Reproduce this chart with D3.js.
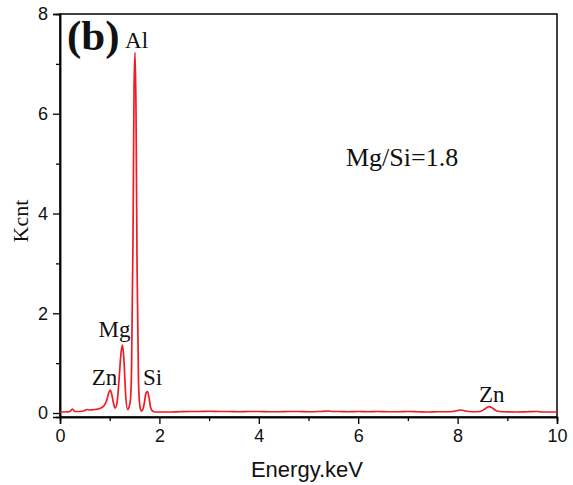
<!DOCTYPE html>
<html><head><meta charset="utf-8">
<script src="https://cdn.jsdelivr.net/npm/d3@7"></script>
<style>body{margin:0;background:#fff}svg{display:block}</style>
</head><body>
<script>
const energy = [0.00,0.10,0.20,0.25,0.30,0.40,0.50,0.55,0.60,0.70,0.80,0.88,0.94,0.98,1.01,1.04,1.08,1.11,1.15,1.19,1.23,1.26,1.29,1.32,1.36,1.39,1.42,1.44,1.47,1.49,1.51,1.53,1.55,1.58,1.61,1.64,1.67,1.70,1.73,1.76,1.79,1.82,1.86,1.92,2.0,2.2,2.4,2.6,2.8,3.0,3.2,3.4,3.6,3.8,4.0,4.2,4.4,4.6,4.8,5.0,5.2,5.4,5.5,5.6,5.8,6.0,6.2,6.4,6.6,6.8,7.0,7.2,7.4,7.6,7.8,7.9,8.0,8.07,8.15,8.3,8.45,8.55,8.63,8.70,8.78,8.9,9.2,9.4,9.6,9.7,10.0];
const kcnt   = [0.02,0.02,0.03,0.08,0.03,0.03,0.05,0.07,0.06,0.07,0.09,0.14,0.25,0.40,0.46,0.38,0.18,0.10,0.22,0.70,1.22,1.36,1.00,0.38,0.07,0.12,0.30,0.9,3.6,6.5,7.23,6.0,3.0,0.6,0.12,0.04,0.08,0.22,0.40,0.43,0.32,0.12,0.04,0.02,0.02,0.02,0.025,0.03,0.03,0.035,0.03,0.03,0.025,0.03,0.03,0.025,0.025,0.03,0.03,0.025,0.03,0.04,0.03,0.03,0.025,0.03,0.025,0.03,0.025,0.025,0.03,0.025,0.02,0.025,0.025,0.03,0.05,0.06,0.04,0.025,0.03,0.08,0.13,0.10,0.045,0.025,0.02,0.025,0.03,0.02,0.02];
const xTicks = [0,2,4,6,8,10];
const xMinor = [1,3,5,7,9];
const yTicks = [0,2,4,6,8];
const yMinor = [1,3,5,7];
const peakNames = ["Al","Mg","Zn","Si","Zn"];
const peakEnergy = [1.51,1.26,1.01,1.76,8.63];
const peakHeight = [7.23,1.36,0.46,0.43,0.13];
const annotation = "Mg/Si=1.8";
const panelLabel = "(b)";

const W=573,H=485;
const svg=d3.select("body").append("svg").attr("width",W).attr("height",H);
const L=60,R=557,T=14,B=417;
const x=d3.scaleLinear().domain([0,10]).range([L,R]);
const y=d3.scaleLinear().domain([-0.08,8]).range([B,T]);

svg.append("rect").attr("x",L).attr("y",T).attr("width",R-L).attr("height",B-T)
  .attr("fill","none").attr("stroke","#000").attr("stroke-width",1.5);

const sans="Liberation Sans, Arial, sans-serif";
const serif="Liberation Serif, Times New Roman, serif";
const gx=svg.append("g").attr("transform",`translate(0,${B})`)
  .call(d3.axisBottom(x).tickValues(xTicks).tickSize(7).tickPadding(5).tickFormat(d3.format("d")));
const gxm=svg.append("g").attr("transform",`translate(0,${B})`)
  .call(d3.axisBottom(x).tickValues(xMinor).tickSize(4).tickFormat(""));
const gy=svg.append("g").attr("transform",`translate(${L},0)`)
  .call(d3.axisLeft(y).tickValues(yTicks).tickSize(7).tickPadding(5).tickFormat(d3.format("d")));
const gym=svg.append("g").attr("transform",`translate(${L},0)`)
  .call(d3.axisLeft(y).tickValues(yMinor).tickSize(4).tickFormat(""));
[gx,gxm,gy,gym].forEach(g=>{
  g.select(".domain").attr("stroke-width",1.5);
  g.selectAll(".tick line").attr("stroke-width",1.3);
  g.selectAll("text").attr("font-family",sans).attr("font-size",18).attr("fill","#111");
});

const data=energy.map((e,i)=>[e,kcnt[i]]);
svg.append("path").datum(data)
  .attr("fill","none").attr("stroke","#ee1c24").attr("stroke-width",1.7)
  .attr("d",d3.line().x(d=>x(d[0])).y(d=>y(d[1])).curve(d3.curveMonotoneX));

const labelOffsets=[[-10,-4],[-24,-8],[-18.5,-5],[-4.5,-6.5],[-10,-5]];
peakNames.forEach((t,i)=>{
  svg.append("text").attr("x",x(peakEnergy[i])+labelOffsets[i][0]).attr("y",y(peakHeight[i])+labelOffsets[i][1])
    .attr("font-family",serif).attr("font-size",23).attr("fill","#111").text(t);
});
svg.append("text").attr("x",67).attr("y",50).attr("font-family",serif).attr("font-weight","bold")
  .attr("font-size",43).attr("fill","#111").text(panelLabel);
svg.append("text").attr("x",346).attr("y",166).attr("font-family",serif).attr("font-size",26).attr("fill","#111").text(annotation);

svg.append("text").attr("x",307).attr("y",477).attr("text-anchor","middle")
  .attr("font-family",sans).attr("font-size",22).attr("fill","#111").text("Energy.keV");
svg.append("text").attr("transform",`translate(28,221) rotate(-90)`).attr("text-anchor","middle")
  .attr("font-family",serif).attr("font-size",22).attr("fill","#111").text("Kcnt");
</script>
</body></html>
